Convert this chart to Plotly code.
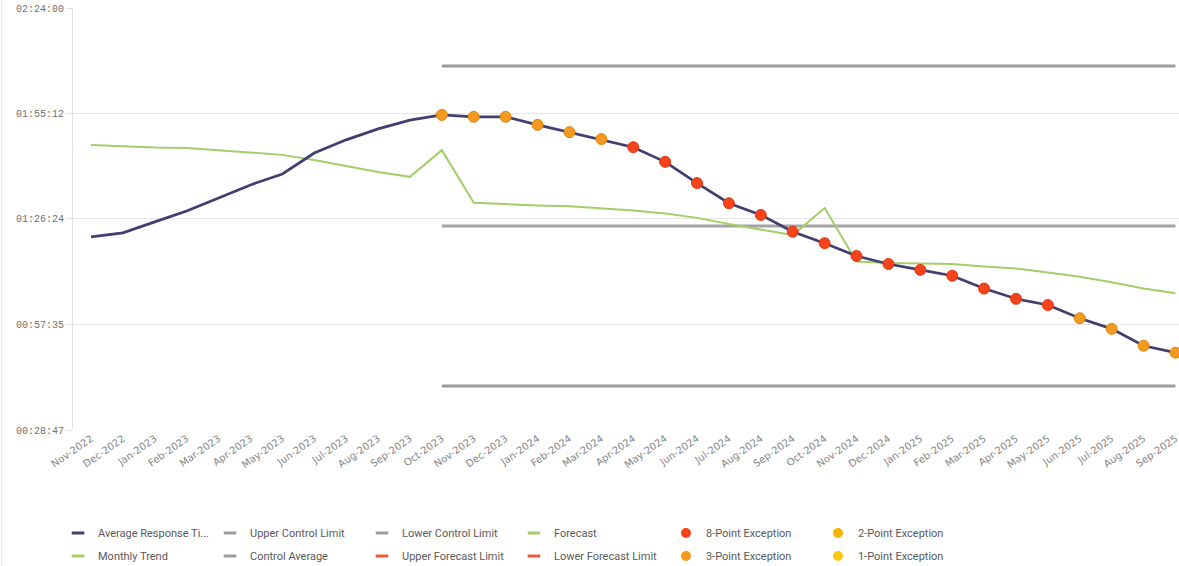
import plotly.graph_objects as go

# Months on the category axis
months = [
    "Nov-2022", "Dec-2022", "Jan-2023", "Feb-2023", "Mar-2023", "Apr-2023",
    "May-2023", "Jun-2023", "Jul-2023", "Aug-2023", "Sep-2023", "Oct-2023",
    "Nov-2023", "Dec-2023", "Jan-2024", "Feb-2024", "Mar-2024", "Apr-2024",
    "May-2024", "Jun-2024", "Jul-2024", "Aug-2024", "Sep-2024", "Oct-2024",
    "Nov-2024", "Dec-2024", "Jan-2025", "Feb-2025", "Mar-2025", "Apr-2025",
    "May-2025", "Jun-2025", "Jul-2025", "Aug-2025", "Sep-2025",
]

# Average response time per month, in minutes
avg_response = [
    81.5, 82.6, 85.6, 88.6, 92.1, 95.7, 98.7, 104.4, 108.0, 111.0, 113.4, 114.8,
    114.3, 114.3, 112.1, 110.1, 108.2, 106.0, 102.0, 96.2, 90.7, 87.5, 82.9, 79.8,
    76.3, 74.1, 72.5, 70.9, 67.4, 64.6, 62.9, 59.3, 56.4, 51.8, 49.9,
]

# Monthly trend, in minutes
monthly_trend = [
    106.6, 106.2, 105.9, 105.8, 105.2, 104.7, 103.9, 102.5, 100.9, 99.2, 97.9, 105.2,
    90.8, 90.4, 90.1, 89.9, 89.4, 88.7, 87.9, 86.7, 85.0, 83.4, 82.0, 89.4,
    74.8, 74.4, 74.2, 74.1, 73.4, 72.9, 71.8, 70.6, 69.1, 67.4, 66.1,
]

# Exception flag per month ("" = none)
exception_flag = (
    [""] * 11
    + ["3-Point"] * 6
    + ["8-Point"] * 14
    + ["3-Point"] * 4
)

# Control limits (minutes), applied from the control start month
control_start = "Oct-2023"
upper_control_limit = 128.15
control_average = 84.47
lower_control_limit = 40.8

# Y axis ticks (minutes) and their hh:mm:ss labels
y_tick_values = [28.783, 57.583, 86.4, 115.2, 144.0]
y_tick_labels = ["00:28:47", "00:57:35", "01:26:24", "01:55:12", "02:24:00"]

NAVY = "#3f3f70"
GREEN = "#a2cf6a"
GRAY = "#9b9b9b"
RED = "#f5431c"
ORANGE = "#f59a1f"
AMBER = "#f6b300"
YELLOW = "#fcc90d"
FORECAST_RED = "#f0583c"

fig = go.Figure()

ctrl_idx = months.index(control_start)
ctrl_x = months[ctrl_idx:]
for val, color in [
    (upper_control_limit, GRAY),
    (control_average, "#a3a3a3"),
    (lower_control_limit, GRAY),
]:
    fig.add_trace(go.Scatter(
        x=ctrl_x, y=[val] * len(ctrl_x), mode="lines",
        line=dict(color=color, width=3), showlegend=False, hoverinfo="skip",
    ))

fig.add_trace(go.Scatter(
    x=months, y=monthly_trend, mode="lines",
    line=dict(color=GREEN, width=2), showlegend=False,
))

fig.add_trace(go.Scatter(
    x=months, y=avg_response, mode="lines",
    line=dict(color=NAVY, width=2.7), showlegend=False,
))

for flag, color, edge in [("8-Point", RED, "#e8380f"), ("3-Point", ORANGE, "#d98612")]:
    xs = [m for m, f in zip(months, exception_flag) if f == flag]
    ys = [v for v, f in zip(avg_response, exception_flag) if f == flag]
    fig.add_trace(go.Scatter(
        x=xs, y=ys, mode="markers", cliponaxis=False,
        marker=dict(color=color, size=11, line=dict(color=edge, width=1)),
        showlegend=False,
    ))

# Legend entries, two rows of six
row1 = [
    ("Average Response Ti...", NAVY, "line"),
    ("Upper Control Limit", GRAY, "line"),
    ("Lower Control Limit", GRAY, "line"),
    ("Forecast", GREEN, "line"),
    ("8-Point Exception", RED, "dot"),
    ("2-Point Exception", AMBER, "dot"),
]
row2 = [
    ("Monthly Trend", GREEN, "line"),
    ("Control Average", GRAY, "line"),
    ("Upper Forecast Limit", FORECAST_RED, "line"),
    ("Lower Forecast Limit", FORECAST_RED, "line"),
    ("3-Point Exception", ORANGE, "dot"),
    ("1-Point Exception", YELLOW, "dot"),
]
for legend_id, row in [("legend", row1), ("legend2", row2)]:
    for name, color, kind in row:
        if kind == "line":
            marker = dict(symbol="line-ew", size=9, line=dict(color=color, width=3))
        else:
            marker = dict(symbol="circle", size=10, color=color)
        fig.add_trace(go.Scatter(
            x=[None], y=[None], mode="markers", name=name,
            marker=marker, legend=legend_id, showlegend=True,
        ))

legend_common = dict(
    orientation="h", xref="container", yref="container",
    xanchor="left", yanchor="middle",
    entrywidth=107, entrywidthmode="pixels",
    font=dict(family="Roboto", size=11, color="#5a5a5a"),
    itemwidth=30, bgcolor="rgba(0,0,0,0)", borderwidth=0,
)

fig.update_layout(
    width=1179, height=566,
    margin=dict(l=73, r=0, t=8, b=136),
    paper_bgcolor="white", plot_bgcolor="white",
    showlegend=True,
    legend=dict(x=58 / 1179, y=1 - 533 / 566, **legend_common),
    legend2=dict(x=58 / 1179, y=1 - 556 / 566, **legend_common),
    xaxis=dict(
        type="category", categoryorder="array", categoryarray=months,
        range=[-0.564, 34.11], showgrid=False, zeroline=False,
        tickangle=-35, ticks="",
        tickfont=dict(family="DejaVu Sans", size=10, color="#858585"),
        automargin=False,
    ),
    yaxis=dict(
        range=[28.783, 144.0], tickvals=y_tick_values, ticktext=y_tick_labels,
        showgrid=True, gridcolor="#e6e6e6", gridwidth=1,
        showline=True, linecolor="#e2e2e2", linewidth=1,
        ticks="outside", ticklen=6, tickcolor="#e2e2e2",
        zeroline=False,
        tickfont=dict(family="Liberation Mono", size=10, color="#6f6f6f"),
        automargin=False,
    ),
    shapes=[dict(
        type="line", xref="paper", yref="paper",
        x0=-71.5 / 1106, x1=-71.5 / 1106, y0=-136 / 422, y1=1 + 8 / 422,
        line=dict(color="#ececec", width=1),
    )],
)

fig.write_html("out.html")
